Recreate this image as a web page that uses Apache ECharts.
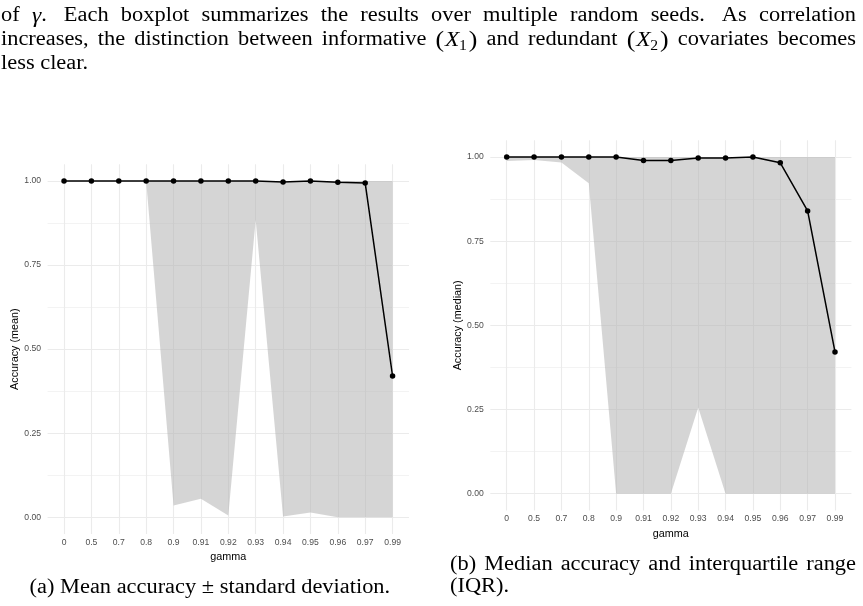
<!DOCTYPE html>
<html>
<head>
<meta charset="utf-8">
<script src="https://cdn.jsdelivr.net/npm/echarts@6/dist/echarts.min.js"></script>
<style>html,body{margin:0;padding:0;background:#fff}#c{width:863px;height:606px}</style>
</head>
<body>
<div id="c"></div>
<script>
// ---------- data ----------
const gammaLabels = ['0','0.5','0.7','0.8','0.9','0.91','0.92','0.93','0.94','0.95','0.96','0.97','0.99'];
const meanAcc   = [1, 1, 1, 1, 1, 1, 1, 1, 0.997, 1, 0.996, 0.994, 0.42];
const meanLower = [1, 1, 1, 1, 0.035, 0.055, 0.005, 0.885, 0.002, 0.014, 0, 0, 0];
const meanUpper = [1, 1, 1, 1, 1, 1, 1, 1, 1, 1, 1, 1, 1];
const medianAcc = [1, 1, 1, 1, 1, 0.990, 0.990, 0.997, 0.997, 1, 0.983, 0.840, 0.421];
const iqrLower  = [0.988, 0.991, 0.984, 0.922, 0, 0, 0, 0.256, 0, 0, 0, 0, 0];
const iqrUpper  = [1, 1, 1, 1, 1, 1, 1, 1, 1, 1, 1, 1, 1];
const yMajor = [0, 0.25, 0.5, 0.75, 1];
const yMinor = [0.125, 0.375, 0.625, 0.875];
const xIdx = gammaLabels.map((_, i) => i);

// ---------- styling ----------
const SANS = '"Liberation Sans", Arial, sans-serif';
const SERIF = '"Liberation Serif", "Times New Roman", serif';
const GRID_COL = '#ebebeb';

function xAxisDef(g) {
  return {
    type: 'value', gridIndex: g, min: -0.6, max: 12.6,
    name: 'gamma', nameLocation: 'middle', nameGap: 15.5,
    nameTextStyle: { fontFamily: SANS, fontSize: 10.8, color: '#000' },
    axisLine: { show: false },
    axisTick: { show: false, customValues: xIdx },
    axisLabel: { customValues: xIdx, formatter: v => gammaLabels[Math.round(v)],
      fontFamily: SANS, fontSize: 8.6, color: '#4d4d4d', margin: 4 },
    splitLine: { show: true, lineStyle: { color: GRID_COL, width: 1.1 } }
  };
}
function yAxisDef(g, name) {
  return {
    type: 'value', gridIndex: g, min: -0.05, max: 1.05,
    name: name, nameLocation: 'middle', nameRotate: 90, nameGap: 26,
    nameTextStyle: { fontFamily: SANS, fontSize: 10.8, color: '#000' },
    axisLine: { show: false },
    axisTick: { show: false, customValues: yMajor },
    axisLabel: { customValues: yMajor, formatter: v => v.toFixed(2),
      fontFamily: SANS, fontSize: 8.6, color: '#4d4d4d', margin: 6.5 },
    splitLine: { show: true, lineStyle: { color: GRID_COL, width: 1.1 } }
  };
}
function yMinorDef(g) {
  return {
    type: 'value', gridIndex: g, min: -0.05, max: 1.05, position: 'right',
    axisLine: { show: false },
    axisTick: { show: false, customValues: yMinor },
    axisLabel: { show: false, customValues: yMinor },
    splitLine: { show: true, lineStyle: { color: GRID_COL, width: 0.6 } }
  };
}
function ribbon(xi, yi, lo, hi) {
  return {
    type: 'custom', xAxisIndex: xi, yAxisIndex: yi, z: 2, silent: true,
    data: lo.map((v, i) => [i, v, hi[i]]),
    encode: { x: 0, y: [1, 2] },
    renderItem: function (params, api) {
      if (params.dataIndexInside !== 0) return null;
      const n = params.dataInsideLength;
      const top = [], bot = [];
      for (let i = 0; i < n; i++) {
        top.push(api.coord([api.value(0, i), api.value(2, i)]));
        bot.push(api.coord([api.value(0, i), api.value(1, i)]));
      }
      return { type: 'polygon', shape: { points: top.concat(bot.reverse()) },
        style: { fill: 'rgba(178,178,178,0.55)', stroke: null } };
    }
  };
}
function lineSeries(xi, yi, vals) {
  return {
    type: 'line', xAxisIndex: xi, yAxisIndex: yi, z: 3,
    data: vals.map((v, i) => [i, v]),
    symbol: 'circle', symbolSize: 5.5, showSymbol: true,
    itemStyle: { color: '#000' }, lineStyle: { color: '#000', width: 1.5 }
  };
}

// ---------- text layout (paper prose / captions) ----------
const FS = 20, SX = 1.12;
const FONTS = { n: FS + 'px ' + SERIF, i: 'italic 21px ' + SERIF, s: '14px ' + SERIF, p: '23px ' + SERIF };
const YOFF = { n: 0, i: 0, s: 6, p: 0.5 };
const mctx = document.createElement('canvas').getContext('2d');
function pieceW(p) { mctx.font = FONTS[p[1]]; return mctx.measureText(p[0]).width * SX + (p[2] || 0); }
function W(t) { return typeof t === 'string' ? [[t, 'n']] : t; }
function layoutLine(wordsIn, x0, x1, yMid, mode, out) {
  const words = wordsIn.map(W);
  const ws = words.map(w => w.reduce((s, p) => s + pieceW(p), 0));
  mctx.font = FONTS.n;
  const sp = mctx.measureText(' ').width * SX;
  const weights = words.slice(0, -1).map(w => /\.$/.test(w[w.length - 1][0]) ? 1.4 : 1);
  const totalW = ws.reduce((a, b) => a + b, 0);
  let gaps;
  if (mode === 'justify') {
    const extra = (x1 - x0) - totalW;
    const sw = weights.reduce((a, b) => a + b, 0);
    gaps = weights.map(w => extra * w / sw);
  } else {
    gaps = weights.map(w => sp * w);
  }
  let x = x0;
  if (mode === 'center') x = (x0 + x1) / 2 - (totalW + gaps.reduce((a, b) => a + b, 0)) / 2;
  words.forEach((word, k) => {
    word.forEach(p => {
      out.push({ type: 'text', x: x, y: yMid + YOFF[p[1]], scaleX: SX, silent: true,
        style: { text: p[0], font: FONTS[p[1]], fill: '#000', align: 'left', verticalAlign: 'middle' } });
      x += pieceW(p);
    });
    if (k < gaps.length) x += gaps[k];
  });
}
const X1 = [['(', 'p', 1], ['X', 'i', -0.5], ['1', 's', 2], [')', 'p']];
const X2 = [['(', 'p', 1], ['X', 'i', -0.5], ['2', 's', 2], [')', 'p']];
const GAM = [['γ', 'i'], ['.', 'n']];
const graphics = [];
layoutLine(['of', GAM, 'Each', 'boxplot', 'summarizes', 'the', 'results', 'over', 'multiple', 'random', 'seeds.', 'As', 'correlation'], 1, 856, 16, 'justify', graphics);
layoutLine(['increases,', 'the', 'distinction', 'between', 'informative', X1, 'and', 'redundant', X2, 'covariates', 'becomes'], 1, 856, 40, 'justify', graphics);
layoutLine(['less', 'clear.'], 1, 856, 64, 'left', graphics);
layoutLine(['(a)', 'Mean', 'accuracy', '±', 'standard', 'deviation.'], 30.7, 389, 588, 'center', graphics);
layoutLine(['(b)', 'Median', 'accuracy', 'and', 'interquartile', 'range'], 450, 856, 564.5, 'justify', graphics);
layoutLine(['(IQR).'], 450, 856, 586.5, 'left', graphics);

// ---------- chart ----------
const chart = echarts.init(document.getElementById('c'), null, { renderer: 'canvas' });
chart.setOption({
  animation: false,
  backgroundColor: '#fff',
  grid: [
    { left: 47.6, top: 164.2, width: 361.4, height: 369.8, containLabel: false },
    { left: 490.3, top: 140.2, width: 361.1, height: 370.3, containLabel: false }
  ],
  xAxis: [xAxisDef(0), xAxisDef(1)],
  yAxis: [yAxisDef(0, 'Accuracy (mean)'), yMinorDef(0), yAxisDef(1, 'Accuracy (median)'), yMinorDef(1)],
  series: [
    ribbon(0, 0, meanLower, meanUpper),
    lineSeries(0, 0, meanAcc),
    ribbon(1, 2, iqrLower, iqrUpper),
    lineSeries(1, 2, medianAcc)
  ],
  graphic: { elements: graphics }
});
</script>
</body>
</html>
